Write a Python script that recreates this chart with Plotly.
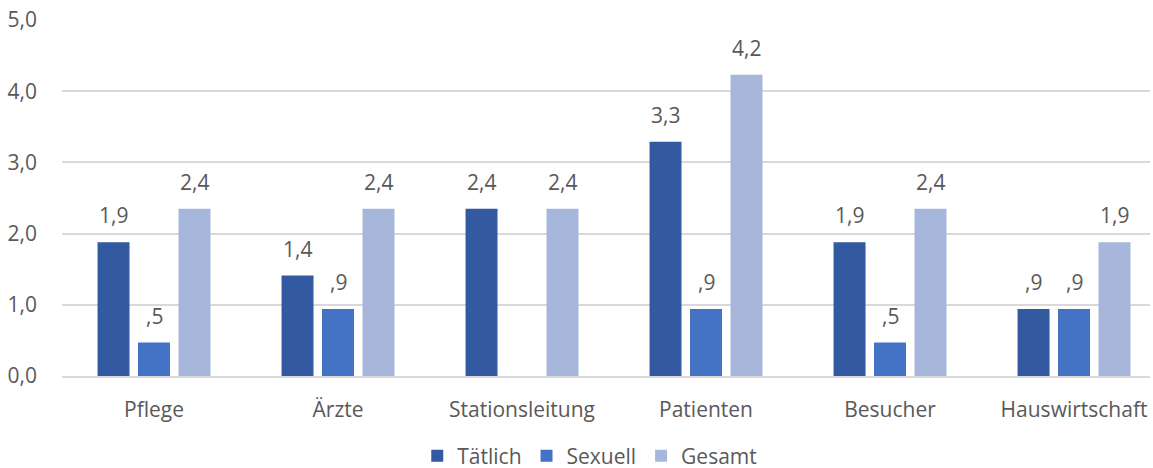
import plotly.graph_objects as go

categories = ["Pflege", "Ärzte", "Stationsleitung", "Patienten", "Besucher", "Hauswirtschaft"]
taetlich = [1.88, 1.41, 2.35, 3.29, 1.88, 0.94]
sexuell = [0.47, 0.94, 0.0, 0.94, 0.47, 0.94]
gesamt = [2.35, 2.35, 2.35, 4.23, 2.35, 1.88]
series_names = ["Tätlich", "Sexuell", "Gesamt"]
y_ticks = [0, 1, 2, 3, 4, 5]

colors = ["#335AA1", "#4472C4", "#A7B6DB"]
font_family = "Open Sans"
text_color = "#595959"
fs = 21


def fmt(v):
    s = f"{v:.1f}".replace(".", ",")
    if s.startswith("0,"):
        s = s[1:]
    return s


fig = go.Figure()
all_series = [taetlich, sexuell, gesamt]
for name, vals, col in zip(series_names, all_series, colors):
    fig.add_trace(go.Bar(x=categories, y=vals, name=name, marker_color=col,
                         marker_line_width=0))

# data labels above bars
offsets = [-0.22, 0.0, 0.22]
for si, vals in enumerate(all_series):
    for ci, v in enumerate(vals):
        if v == 0:
            continue
        fig.add_annotation(x=ci + offsets[si], y=v, xref="x", yref="y",
                           text=fmt(v), showarrow=False, yanchor="bottom",
                           yshift=11, font=dict(family=font_family, size=fs, color=text_color))

fig.update_layout(
    template="none",
    width=1153, height=468,
    margin=dict(l=62, r=3, t=20, b=92, autoexpand=False),
    paper_bgcolor="white", plot_bgcolor="white",
    barmode="group", bargap=0.34, bargroupgap=0.21,
    separators=",.",
    font=dict(family=font_family, size=fs, color=text_color),
    showlegend=True,
    legend=dict(orientation="h", xref="container", yref="paper",
                x=0.5115, xanchor="center", y=-0.225, yanchor="middle",
                font=dict(family=font_family, size=fs, color=text_color),
                itemwidth=30, traceorder="normal", bgcolor="rgba(0,0,0,0)"),
)
fig.update_xaxes(range=[-0.5, 5.413], showgrid=False, showline=True, automargin=False,
                 linecolor="#D9D9D9", linewidth=1.5, ticks="", ticklabelstandoff=14,
                 tickfont=dict(size=fs), ticklabeloverflow="allow")
fig.update_yaxes(range=[0, 5], tickvals=y_ticks, tickformat=".1f", automargin=False,
                 showgrid=True, gridcolor="#D9D9D9", gridwidth=1.5, zeroline=False,
                 showline=False, ticks="", ticklabelstandoff=24, tickfont=dict(size=fs),
                 ticklabeloverflow="allow")

fig.write_html("out.html", config={"displayModeBar": False},
               post_script="document.body.style.margin='0';document.body.style.overflow='hidden';")
